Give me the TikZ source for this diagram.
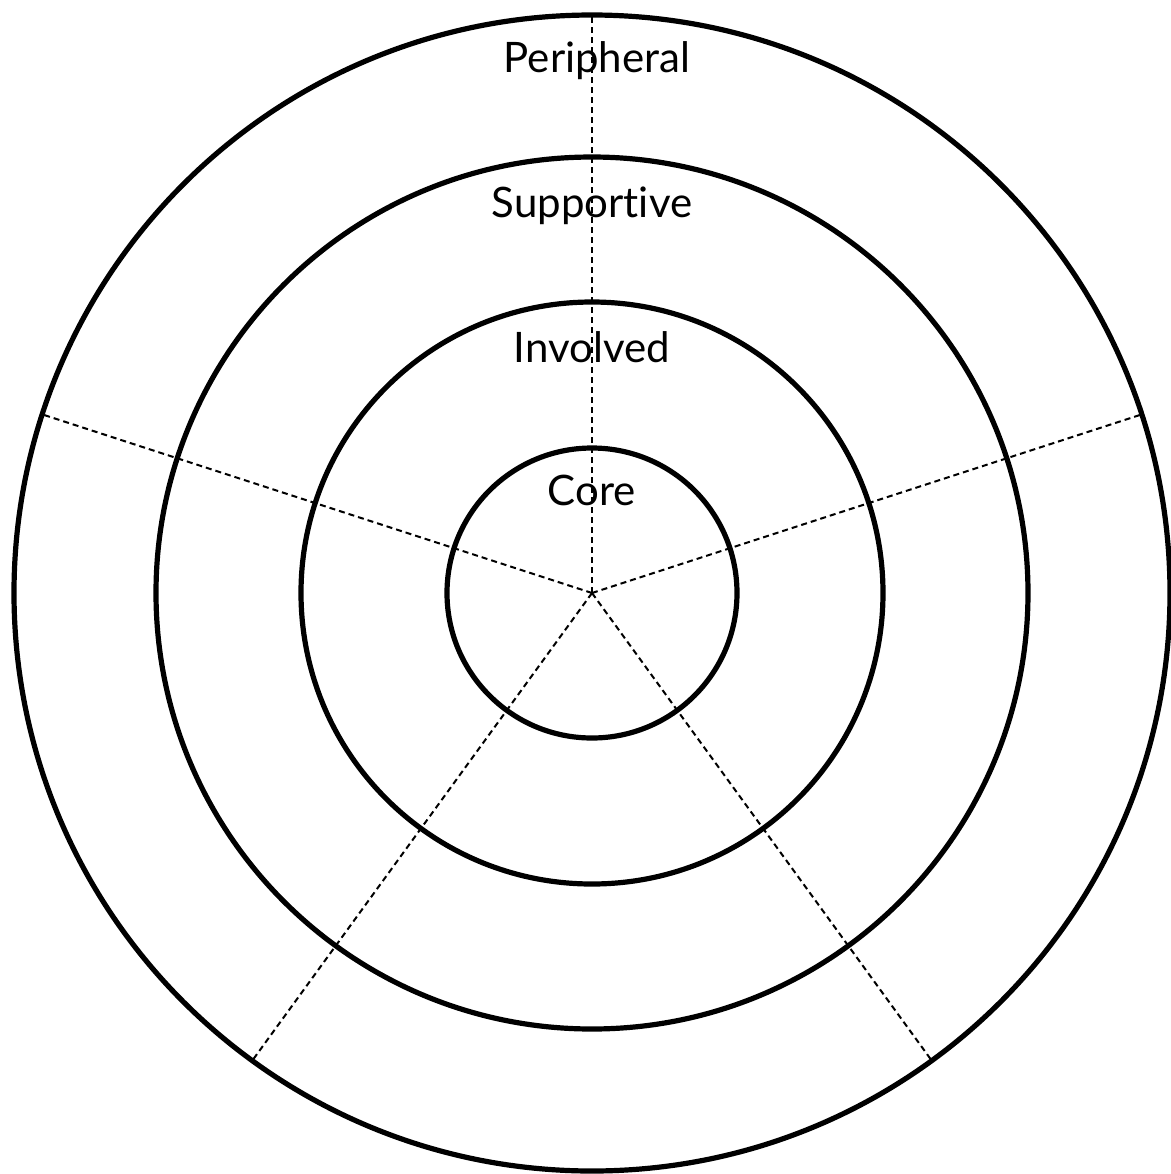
\documentclass[tikz,border=0pt]{standalone}
\usepackage{fontspec}
\setmainfont{Lato}[Ligatures={NoCommon,NoRare,NoDiscretionary}]
\begin{document}
\begin{tikzpicture}[x=0.5pt,y=-0.5pt,
  ring/.style={circle, draw=black, line width=2.6pt, inner sep=0pt, outer sep=0pt},
  spoke/.style={black, line width=1pt, dash pattern=on 3pt off 2pt},
  lbl/.style={anchor=base, font=\fontsize{21}{25}\selectfont, inner sep=0pt}]
\useasboundingbox (0,0) rectangle (1171,1174);
\coordinate (c) at (592,593);
\node[ring, minimum size=1156*0.5pt] (outer) at (c) {};
\node[ring, minimum size=872*0.5pt] (supp) at (c) {};
\node[ring, minimum size=582*0.5pt] (inv) at (c) {};
\node[ring, minimum size=290*0.5pt] (core) at (c) {};
\foreach \a in {90,18,162,234,306}
  \draw[spoke] (c) -- (outer.\a);
\node[lbl] (lp) at (597,72) {Peripheral};
\node[lbl] (ls) at (592,217) {Supportive};
\node[lbl] (li) at (592,362) {Involved};
\node[lbl] (lc) at (592,505) {Core};
\end{tikzpicture}
\end{document}
